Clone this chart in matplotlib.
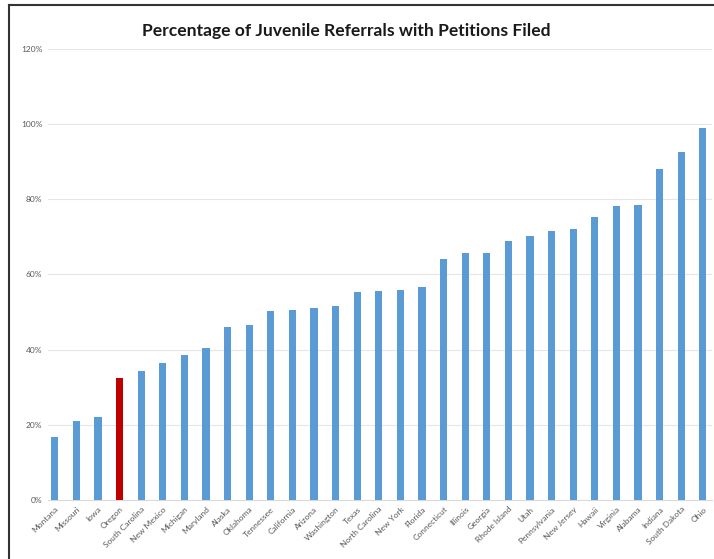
import numpy as np
import matplotlib.pyplot as plt
from matplotlib.lines import Line2D

states = ['Montana', 'Missouri', 'Iowa', 'Oregon', 'South Carolina', 'New Mexico',
          'Michigan', 'Maryland', 'Alaska', 'Oklahoma', 'Tennessee', 'California',
          'Arizona', 'Washington', 'Texas', 'North Carolina', 'New York', 'Florida',
          'Connecticut', 'Illinois', 'Georgia', 'Rhode Island', 'Utah', 'Pennsylvania',
          'New Jersey', 'Hawaii', 'Virginia', 'Alabama', 'Indiana', 'South Dakota', 'Ohio']
pct = [16.8, 21.0, 22.1, 32.4, 34.3, 36.4, 38.6, 40.5, 46.1, 46.5, 50.3, 50.5,
       51.1, 51.6, 55.3, 55.6, 55.9, 56.7, 64.2, 65.6, 65.6, 69.0, 70.2, 71.6,
       72.0, 75.2, 78.1, 78.4, 88.1, 92.7, 98.9]
highlight = 'Oregon'

plt.rcParams['font.family'] = ['Lato', 'DejaVu Sans']

fig = plt.figure(figsize=(7.14, 5.59), dpi=100)
ax = fig.add_axes([0.067, 0.1055, 0.93, 0.807])

x = np.arange(len(states))
colors = ['#C00000' if s == highlight else '#5B9BD5' for s in states]
ax.bar(x, pct, width=0.33, color=colors, zorder=3)

ax.set_ylim(0, 120)
ax.set_xlim(-0.32, 30.42)
ax.set_yticks(np.arange(0, 121, 20))
ax.set_yticklabels([f'{v}%' for v in range(0, 121, 20)], fontsize=6, color='#595959')
ax.set_xticks(x)
ax.set_xticklabels(states, rotation=45, ha='right', rotation_mode='anchor',
                   fontsize=6, color='#595959')
ax.tick_params(length=0, pad=4)
ax.grid(axis='y', color='#E6E6E6', linewidth=0.8, zorder=0)
for side in ['top', 'right', 'left']:
    ax.spines[side].set_visible(False)
ax.spines['bottom'].set_color('#D9D9D9')

fig.text(0.485, 0.945, 'Percentage of Juvenile Referrals with Petitions Filed',
         ha='center', va='center', fontsize=12.6, fontweight='bold', color='#1a1a1a')

# outer frame of the pasted image (only top and left edges are visible)
left = 8.5 / 714
top = 1 - 4.5 / 559
fig.add_artist(Line2D([left, 1], [top, top], transform=fig.transFigure,
                      color='#333333', linewidth=1.5))
fig.add_artist(Line2D([left, left], [0, top], transform=fig.transFigure,
                      color='#333333', linewidth=1.5))

fig.savefig('out.png', dpi=100)
